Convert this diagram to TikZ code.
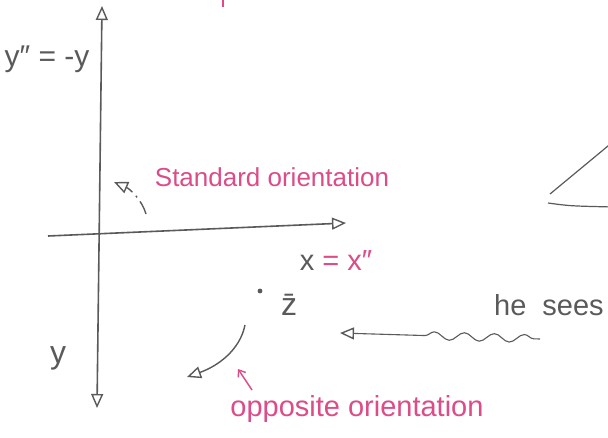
\documentclass[tikz,border=0pt]{standalone}
\usepackage{fontspec}
\setmainfont{Liberation Sans}
\usetikzlibrary{arrows.meta,decorations.pathmorphing}
\definecolor{ink}{HTML}{5A5A5A}
\definecolor{pinkink}{HTML}{DB4C88}
\tikzset{
  axis/.style={draw=ink,line width=1.6pt},
  hand/.style={text=ink,inner sep=0pt,font=\fontsize{30}{34}\selectfont},
  pinkhand/.style={text=pinkink,inner sep=0pt,font=\fontsize{26}{30}\selectfont},
  curl/.style={draw=ink,line width=1.4pt,->},
  dashcurl/.style={draw=ink,line width=1.4pt,->,dash pattern=on 14pt off 5pt on 2pt off 5pt},
  pinkflow/.style={draw=pinkink,line width=1.4pt,-{Straight Barb[length=6pt,width=9pt]}},
  wavy/.style={draw=ink,line width=1.1pt,<-,decorate,decoration={snake,pre length=85pt,post length=6pt,segment length=30pt,amplitude=4pt}},
  edge/.style={draw=ink,line width=1.2pt}}

\begin{document}
\begin{tikzpicture}[x=1pt,y=-1pt,>={Triangle[open,length=14pt,width=12pt,line width=1.4pt]}]
  \useasboundingbox[fill=white] (0,0) rectangle (608,437);
  % axes
  \coordinate (ytop) at (102,6);
  \coordinate (ybot) at (97,408);
  \coordinate (xleft) at (48,236);
  \coordinate (xright) at (346,223);
  \draw[axis,<->] (ybot) -- (ytop);
  \draw[axis,->] (xleft) -- (xright);
  % labels on the axes
  \node[hand] (ylabtop) at (47,59) {y″ = -y};
  \node[hand,font=\fontsize{32}{36}\selectfont] (ylabbot) at (58,358) {y};
  \node[pinkhand,font=\fontsize{29}{33}\selectfont] (xlab) at (336,261) {\textcolor{ink}{x} = x″};
  % standard orientation
  \node[pinkhand] (stdlab) at (272,177) {Standard orientation};
  \coordinate (stdfrom) at (146,214);
  \coordinate (stdto) at (114,182);
  \draw[dashcurl] (stdfrom) .. controls (142,200) and (130,189) .. (stdto);
  % the point z bar
  \node[circle,fill=ink,inner sep=1.7pt] (zdot) at (260,291) {};
  \node[hand,font=\fontsize{32}{36}\selectfont] (zbar) at (289,305) {\={z}};
  % opposite orientation
  \coordinate (oppfrom) at (245,325);
  \coordinate (oppto) at (187,377);
  \draw[curl] (oppfrom) .. controls (240,350) and (218,366) .. (oppto);
  \coordinate (pinkfrom) at (252,390);
  \coordinate (pinkto) at (238,369);
  \draw[pinkflow] (pinkfrom) -- (pinkto);
  \node[pinkhand,font=\fontsize{29}{33}\selectfont] (opplab) at (357,409) {opposite orientation};
  % he sees
  \node[hand,font=\fontsize{29}{33}\selectfont,anchor=west] (sees) at (494,305) {he\hspace{16pt}sees};
  \coordinate (seeshead) at (340,333);
  \coordinate (seestail) at (540,339);
  \draw[wavy] (seeshead) -- (seestail);
  % corner at the right edge
  \coordinate (cornerup) at (550,194);
  \coordinate (cornerlow) at (548,203);
  \draw[edge] (cornerup) -- (614,141);
  \draw[edge] (cornerlow) .. controls (570,206) .. (614,207);
  % pink stroke at the top
  \coordinate (tickA) at (223,-2);
  \coordinate (tickB) at (223,7);
  \draw[draw=pinkink,line width=2pt] (tickA) -- (tickB);
\end{tikzpicture}
\end{document}
